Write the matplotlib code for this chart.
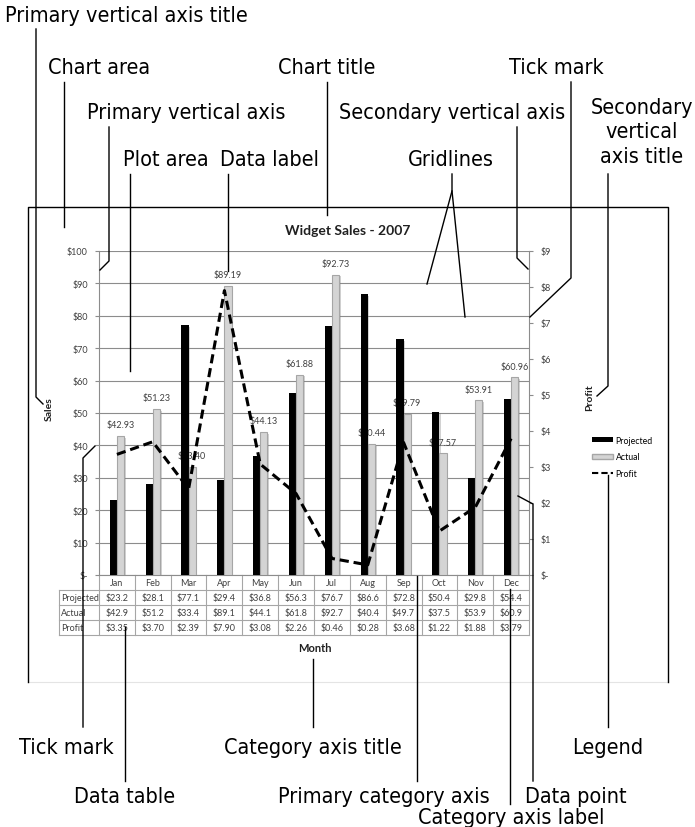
import math
import matplotlib
matplotlib.use('Agg')
import matplotlib.pyplot as plt
import matplotlib.patheffects as pe
from matplotlib.lines import Line2D
from matplotlib.patches import Patch

# chart data
months = ['Jan', 'Feb', 'Mar', 'Apr', 'May', 'Jun',
          'Jul', 'Aug', 'Sep', 'Oct', 'Nov', 'Dec']
projected = [23.2, 28.1, 77.1, 29.4, 36.8, 56.3, 76.7, 86.6, 72.8, 50.4, 29.8, 54.4]
actual = [42.93, 51.23, 33.40, 89.19, 44.13, 61.88, 92.73, 40.44, 49.79, 37.57, 53.91, 60.96]
profit = [3.35, 3.70, 2.39, 7.90, 3.08, 2.26, 0.46, 0.28, 3.68, 1.22, 1.88, 3.79]
sales_ticks = list(range(0, 101, 10))
profit_ticks = list(range(0, 10))
row_names = ['Projected', 'Actual', 'Profit']

W, H = 695, 828
fig = plt.figure(figsize=(W / 100, H / 100), dpi=100)
fig.patch.set_facecolor('white')


def fx(x):
    return x / W


def fy(y):
    return 1 - y / H


CH = ['Lato', 'DejaVu Sans']
TXT = '#404040'
GRID = '#8c8c8c'

ax = fig.add_axes([fx(99), fy(576), (529 - 99) / W, (576 - 252) / H])
x = list(range(len(months)))
bw = 0.2
shadow = [pe.SimplePatchShadow(offset=(1.2, -1.2), shadow_rgbFace='#808080', alpha=0.35), pe.Normal()]
b1 = ax.bar([i - bw / 2 for i in x], projected, bw, color='black', zorder=3)
b2 = ax.bar([i + bw / 2 for i in x], actual, bw, color='#d4d4d4',
            edgecolor='#a6a6a6', linewidth=0.8, zorder=3)
for b in list(b1) + list(b2):
    b.set_path_effects(shadow)

# data labels (sit under the bars, as in the original)
for i, v in enumerate(actual):
    ax.annotate('$%.2f' % v, (i + bw / 2, v), xytext=(0, 8), textcoords='offset points',
                ha='center', va='center', fontsize=6.5, color=TXT, family=CH, zorder=2.5)

ax.set_xlim(-0.5, 11.5)
ax.set_ylim(0, 100)
ax.set_yticks(sales_ticks)
ax.set_yticklabels(['$-' if t == 0 else '$%d' % t for t in sales_ticks],
                   fontsize=6.5, color=TXT, family=CH)
ax.set_xticks([])
ax.yaxis.grid(True, color=GRID, lw=0.8, zorder=0)
ax.set_axisbelow(True)
ax.tick_params(axis='y', length=3, color=GRID, pad=5)
for s in ['top', 'right']:
    ax.spines[s].set_visible(False)
for s in ['left', 'bottom']:
    ax.spines[s].set_color(GRID)
    ax.spines[s].set_linewidth(0.8)

ax2 = ax.twinx()
ax2.plot(x, profit, color='black', lw=2.2, ls=(0, (3, 1.6)), zorder=5)
ax2.set_ylim(0, 9)
ax2.set_yticks(profit_ticks)
ax2.set_yticklabels(['$-' if t == 0 else '$%d' % t for t in profit_ticks],
                    fontsize=6.5, color=TXT, family=CH)
ax2.tick_params(axis='y', length=3, color=GRID, pad=5)
for s in ['top', 'left', 'bottom']:
    ax2.spines[s].set_visible(False)
ax2.spines['right'].set_color(GRID)
ax2.spines['right'].set_linewidth(0.8)

# data table under the plot
tr = ax.get_xaxis_transform()
rh = 15 / 324.0
tcol = '#a6a6a6'
xl = -0.5 - 40 / (430 / 12.0)
for k in range(1, 5):
    ax.plot([xl, 11.5], [-k * rh, -k * rh], color=tcol, lw=0.8, transform=tr, clip_on=False)
ax.plot([xl, xl], [-rh, -4 * rh], color=tcol, lw=0.8, transform=tr, clip_on=False)
for i in range(13):
    ax.plot([i - 0.5, i - 0.5], [0, -4 * rh], color=tcol, lw=0.8, transform=tr, clip_on=False)
for i, m in enumerate(months):
    ax.text(i, -0.5 * rh, m, ha='center', va='center', fontsize=6.5, color=TXT,
            family=CH, transform=tr)
cols = [['$%.1f' % v for v in projected],
        ['$%.1f' % (math.floor(v * 10) / 10) for v in actual],
        ['$%.2f' % v for v in profit]]
for r, name in enumerate(row_names):
    yy = -(r + 1.5) * rh
    ax.text(xl + 0.05, yy, name, ha='left', va='center', fontsize=6.5, color=TXT,
            family=CH, transform=tr)
    for i, s in enumerate(cols[r]):
        ax.text(i, yy, s, ha='center', va='center', fontsize=6.5, color=TXT,
                family=CH, transform=tr)

# titles
fig.text(fx(348), fy(231), 'Widget Sales - 2007', ha='center', va='center',
         fontsize=10, fontweight='bold', color='#202020', family=CH)
fig.text(fx(49), fy(409), 'Sales', ha='center', va='center', rotation=90,
         fontsize=7.5, fontweight='bold', color='#202020', family=CH)
fig.text(fx(590), fy(398), 'Profit', ha='center', va='center', rotation=90,
         fontsize=7.5, fontweight='bold', color='#202020', family=CH)
fig.text(fx(315), fy(648), 'Month', ha='center', va='center',
         fontsize=8, fontweight='bold', color='#202020', family=CH)

handles = [Patch(facecolor='black'),
           Patch(facecolor='#d4d4d4', edgecolor='#a6a6a6'),
           Line2D([], [], color='black', lw=1.5, ls=(0, (3, 1.5)))]
leg = fig.legend(handles, ['Projected', 'Actual', 'Profit'], loc='upper left',
                 bbox_to_anchor=(fx(584), fy(429)), frameon=False,
                 handlelength=2.4, handleheight=0.45, labelspacing=0.85,
                 handletextpad=0.3, prop={'family': CH, 'size': 6.3})

# faint chart-area bottom edge
fig.add_artist(Line2D([fx(28), fx(668)], [fy(683), fy(683)], color='#e4e4e4', lw=0.8))

# callout labels and leader lines
callouts = [
    ('Primary vertical axis title', 5, 16, 'left', [(36, 30), (36, 398), (43, 405)]),
    ('Chart area', 99, 68, 'center', [(64, 83), (64, 228)]),
    ('Chart title', 327, 68, 'center', [(327, 83), (327, 216)]),
    ('Tick mark', 556, 68, 'center', [(571, 83), (571, 279), (530, 318)]),
    ('Primary vertical axis', 186, 113, 'center', [(109, 128), (109, 262), (100, 271)]),
    ('Secondary vertical axis', 452, 113, 'center', [(517, 128), (517, 259), (528, 270)]),
    ('Plot area', 166, 160, 'center', [(130, 175), (130, 372)]),
    ('Data label', 270, 160, 'center', [(228, 175), (228, 272)]),
    ('Gridlines', 451, 160, 'center', [(452, 175), (452, 192), (427, 285)]),
    (None, 0, 0, 'center', [(452, 192), (465, 318)]),
    ('Secondary', 642, 108, 'center', [(608, 175), (608, 387), (597, 397)]),
    ('vertical', 642, 132, 'center', []),
    ('axis title', 642, 157, 'center', []),
    ('Tick mark', 66, 748, 'center', [(95, 447), (83, 459), (83, 728)]),
    ('Data table', 125, 797, 'center', [(125, 628), (125, 782)]),
    ('Category axis title', 313, 748, 'center', [(313, 660), (313, 728)]),
    ('Primary category axis', 384, 797, 'center', [(417, 577), (417, 782)]),
    ('Category axis label', 511, 818, 'center', [(510, 590), (510, 805)]),
    ('Data point', 576, 797, 'center', [(518, 497), (533, 505), (533, 782)]),
    ('Legend', 608, 748, 'center', [(608, 476), (608, 728)]),
]
for label, tx, ty, ha, pts in callouts:
    if label:
        fig.text(fx(tx), fy(ty), label, ha=ha, va='center', fontsize=15.5,
                 fontstretch='condensed', color='black', family='DejaVu Sans')
    if pts:
        fig.add_artist(Line2D([fx(p[0]) for p in pts], [fy(p[1]) for p in pts],
                              color='black', lw=1.0))

# bracket around the chart area
fig.add_artist(Line2D([fx(28), fx(28), fx(668), fx(668)],
                      [fy(683), fy(208), fy(208), fy(683)], color='black', lw=1.0))

fig.savefig('out.png', dpi=100)
